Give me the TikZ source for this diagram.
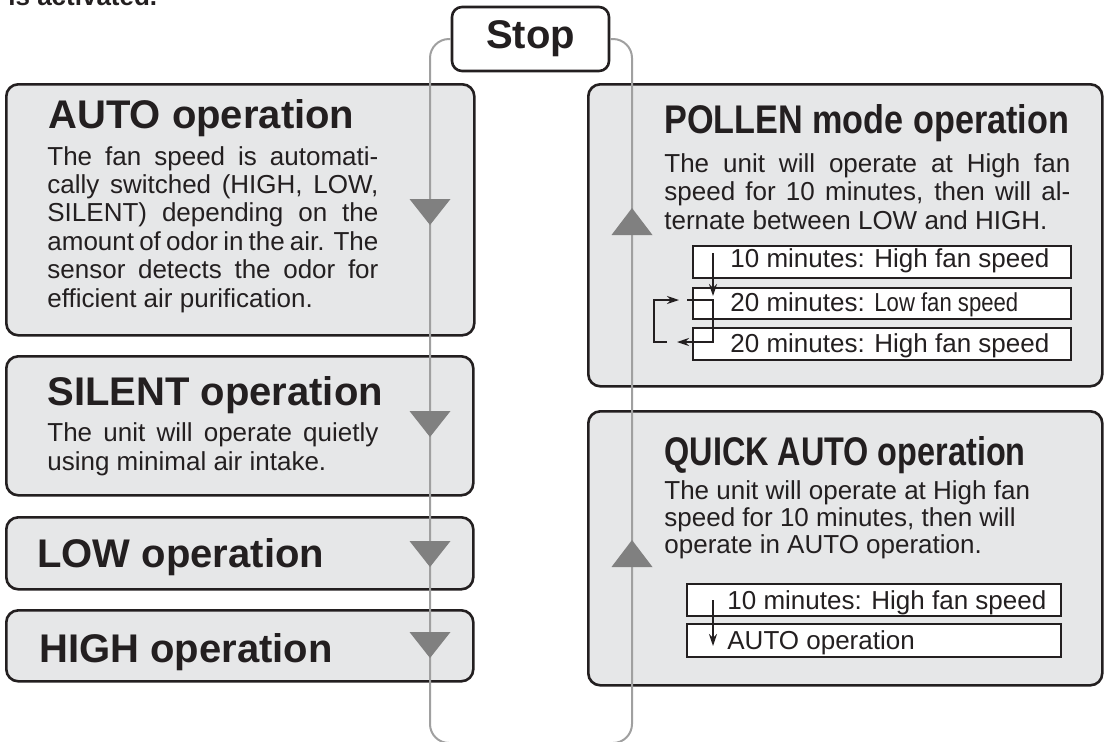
\documentclass[tikz,border=0pt]{standalone}
\usepackage{fontspec}
\setmainfont{Liberation Sans}
\usepackage{graphicx}
\usetikzlibrary{arrows.meta, positioning, calc}

\definecolor{boxgrey}{RGB}{230,231,232}
\definecolor{linegrey}{RGB}{160,160,160}
\definecolor{trigrey}{RGB}{128,128,128}
\definecolor{ink}{RGB}{35,31,32}

% one justified line of a box text
\newcommand{\jl}[2][165.5pt]{\makebox[#1][s]{#2}}

\tikzset{
  modebox/.style={draw=ink, line width=1.3pt, fill=boxgrey, rounded corners=6pt, inner sep=0pt, anchor=north west},
  stepbox/.style={draw=ink, line width=1.2pt, fill=white, inner sep=0pt, anchor=north west, minimum height=16pt},
  title/.style={font=\fontsize{20}{22}\selectfont\bfseries, text=ink, inner sep=0pt, anchor=base west},
  body/.style={font=\fontsize{13}{14.2}\selectfont, text=ink, inner sep=0pt, anchor=base west, align=left},
  steptext/.style={font=\fontsize{13}{14}\selectfont, text=ink, inner sep=0pt, anchor=base west},
  cycleline/.style={draw=linegrey, line width=1pt, rounded corners=9.5pt},
  flow/.style={draw=ink, line width=1pt, -{Stealth[length=6pt,width=4pt]}}
}

\begin{document}
\begin{tikzpicture}[x=0.5pt, y=-0.5pt]
    \useasboundingbox (0,0) rectangle (1109,741);

    % Cut-off heading
    \node[font=\fontsize{13}{14}\selectfont\bfseries, text=ink, inner sep=0pt, anchor=base west] (hdr) at (8,5) {is activated.};

    % Left column (body nodes sit on their last baseline)
    \node[modebox, minimum width=234pt, minimum height=125.5pt] (auto) at (5,83) {};
    \node[title] (autot) at (48,128) {AUTO operation};
    \node[body] (autob) at (47,307) {\jl{The fan speed is automati-}\\
        \jl{cally switched (HIGH, LOW,}\\
        \jl{SILENT) depending on the}\\
        \jl{amount of odor in the air. The}\\
        \jl{sensor detects the odor for}\\
        efficient air purification.};

    \node[modebox, minimum width=233.5pt, minimum height=69.5pt] (silent) at (5,355) {};
    \node[title] (silentt) at (47,405) {SILENT operation};
    \node[body] (silentb) at (47,470) {\jl{The unit will operate quietly}\\
        using minimal air intake.};

    \node[modebox, minimum width=233.5pt, minimum height=36pt] (low) at (5,516) {};
    \node[title] (lowt) at (37,567) {LOW operation};

    \node[modebox, minimum width=233.5pt, minimum height=35.5pt] (high) at (5,609) {};
    \node[title] (hight) at (39,662) {HIGH operation};

    % Right column
    \node[modebox, minimum width=257pt, minimum height=151pt] (pollen) at (587,83) {};
    \node[title] (pollent) at (664,133) {\scalebox{0.855}[1]{POLLEN mode operation}};
    \node[body] (pollenb) at (664,229) {\jl[203pt]{The unit will operate at High fan}\\
        \jl[203pt]{speed for 10 minutes, then will al-}\\
        ternate between LOW and HIGH.};

    \node[stepbox, minimum width=189pt] (pb1) at (692,245) {};
    \node[stepbox, minimum width=189pt, minimum height=15.5pt] (pb2) at (692,287) {};
    \node[stepbox, minimum width=189pt] (pb3) at (692,327) {};
    \node[steptext] (pt1) at (730,267) {10 minutes: High fan speed};
    \node[steptext] (pt2) at (730,311) {20 minutes: \scalebox{0.85}[1]{Low fan speed}};
    \node[steptext] (pt3) at (730,352) {20 minutes: High fan speed};

    \node[modebox, minimum width=257pt, minimum height=137pt] (quick) at (587,410) {};
    \node[title] (quickt) at (664,465) {\scalebox{0.81}[1]{QUICK AUTO operation}};
    \node[body, font=\fontsize{13}{13.4}\selectfont] (quickb) at (664,553) {The unit will operate at High fan\\
        speed for 10 minutes, then will\\
        operate in AUTO operation.};

    \node[stepbox, minimum width=187pt] (qb1) at (686,583) {};
    \node[stepbox, minimum width=187pt, minimum height=16.5pt] (qb2) at (686,623) {};
    \node[steptext] (qt1) at (727,609) {10 minutes: High fan speed};
    \node[steptext] (qt2) at (727,649) {AUTO operation};

    % Step arrows
    \coordinate (pa) at (713,253);
    \coordinate (pb) at (713,296);
    \coordinate (pc) at (687,300);
    \coordinate (pd) at (713,342);
    \coordinate (pe) at (677,342);
    \coordinate (pf) at (667,342);
    \coordinate (pg) at (654,300);
    \coordinate (ph) at (679,300);
    \draw[flow] (pa) -- (pb);
    \draw[flow] (pc) -| (pd) -- (pe);
    \draw[flow] (pf) -| (pg) -- (ph);
    \coordinate (qa) at (713,600);
    \coordinate (qb) at (713,646);
    \draw[flow] (qa) -- (qb);

    % Stop and the loop
    \node[draw=ink, line width=1.3pt, fill=white, rounded corners=5pt, minimum width=78.5pt, minimum height=32pt, inner sep=0pt, font=\fontsize{20}{22}\selectfont\bfseries, text=ink] (stop) at (530.5,39) {Stop};
    \coordinate (loopbl) at (430,743);
    \coordinate (loopbr) at (632,743);
    \draw[cycleline] (stop.west) -| (loopbl) -- (loopbr) |- (stop.east);

    % Direction marks
    \foreach \ty in {225,437,567,658}
        \fill[trigrey] (430,\ty) -- ++(-20.5,-26) -- ++(41,0) -- cycle;
    \foreach \ty in {208,540}
        \fill[trigrey] (632,\ty) -- ++(-20.5,27) -- ++(41,0) -- cycle;
\end{tikzpicture}
\end{document}
